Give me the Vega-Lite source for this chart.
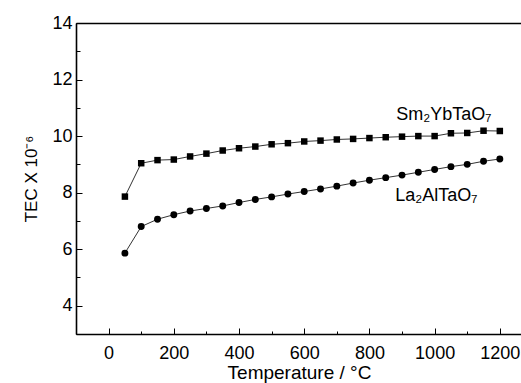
{
  "$schema": "https://vega.github.io/schema/vega-lite/v6.json",
  "autosize": "none",
  "padding": {"left": 76, "top": 23, "right": 0, "bottom": 49},
  "width": 446,
  "height": 311,
  "datasets": {
    "tec": [
      {"T": 50, "TEC": 7.86, "material": "Sm2YbTaO7"},
      {"T": 100, "TEC": 9.04, "material": "Sm2YbTaO7"},
      {"T": 150, "TEC": 9.15, "material": "Sm2YbTaO7"},
      {"T": 200, "TEC": 9.17, "material": "Sm2YbTaO7"},
      {"T": 250, "TEC": 9.28, "material": "Sm2YbTaO7"},
      {"T": 300, "TEC": 9.38, "material": "Sm2YbTaO7"},
      {"T": 350, "TEC": 9.49, "material": "Sm2YbTaO7"},
      {"T": 400, "TEC": 9.57, "material": "Sm2YbTaO7"},
      {"T": 450, "TEC": 9.63, "material": "Sm2YbTaO7"},
      {"T": 500, "TEC": 9.71, "material": "Sm2YbTaO7"},
      {"T": 550, "TEC": 9.75, "material": "Sm2YbTaO7"},
      {"T": 600, "TEC": 9.81, "material": "Sm2YbTaO7"},
      {"T": 650, "TEC": 9.84, "material": "Sm2YbTaO7"},
      {"T": 700, "TEC": 9.88, "material": "Sm2YbTaO7"},
      {"T": 750, "TEC": 9.90, "material": "Sm2YbTaO7"},
      {"T": 800, "TEC": 9.93, "material": "Sm2YbTaO7"},
      {"T": 850, "TEC": 9.96, "material": "Sm2YbTaO7"},
      {"T": 900, "TEC": 9.98, "material": "Sm2YbTaO7"},
      {"T": 950, "TEC": 10.0, "material": "Sm2YbTaO7"},
      {"T": 1000, "TEC": 10.0, "material": "Sm2YbTaO7"},
      {"T": 1050, "TEC": 10.10, "material": "Sm2YbTaO7"},
      {"T": 1100, "TEC": 10.11, "material": "Sm2YbTaO7"},
      {"T": 1150, "TEC": 10.19, "material": "Sm2YbTaO7"},
      {"T": 1200, "TEC": 10.18, "material": "Sm2YbTaO7"},
      {"T": 50, "TEC": 5.86, "material": "La2AlTaO7"},
      {"T": 100, "TEC": 6.80, "material": "La2AlTaO7"},
      {"T": 150, "TEC": 7.06, "material": "La2AlTaO7"},
      {"T": 200, "TEC": 7.22, "material": "La2AlTaO7"},
      {"T": 250, "TEC": 7.35, "material": "La2AlTaO7"},
      {"T": 300, "TEC": 7.44, "material": "La2AlTaO7"},
      {"T": 350, "TEC": 7.53, "material": "La2AlTaO7"},
      {"T": 400, "TEC": 7.65, "material": "La2AlTaO7"},
      {"T": 450, "TEC": 7.76, "material": "La2AlTaO7"},
      {"T": 500, "TEC": 7.85, "material": "La2AlTaO7"},
      {"T": 550, "TEC": 7.95, "material": "La2AlTaO7"},
      {"T": 600, "TEC": 8.04, "material": "La2AlTaO7"},
      {"T": 650, "TEC": 8.13, "material": "La2AlTaO7"},
      {"T": 700, "TEC": 8.23, "material": "La2AlTaO7"},
      {"T": 750, "TEC": 8.34, "material": "La2AlTaO7"},
      {"T": 800, "TEC": 8.44, "material": "La2AlTaO7"},
      {"T": 850, "TEC": 8.53, "material": "La2AlTaO7"},
      {"T": 900, "TEC": 8.62, "material": "La2AlTaO7"},
      {"T": 950, "TEC": 8.72, "material": "La2AlTaO7"},
      {"T": 1000, "TEC": 8.82, "material": "La2AlTaO7"},
      {"T": 1050, "TEC": 8.92, "material": "La2AlTaO7"},
      {"T": 1100, "TEC": 9.00, "material": "La2AlTaO7"},
      {"T": 1150, "TEC": 9.11, "material": "La2AlTaO7"},
      {"T": 1200, "TEC": 9.19, "material": "La2AlTaO7"}
    ],
    "labels": [
      {"T": 1028, "TEC": 10.57, "label": "Sm₂YbTaO₇"},
      {"T": 1005, "TEC": 7.69, "label": "La₂AlTaO₇"}
    ]
  },
  "layer": [
    {
      "data": {"name": "tec"},
      "mark": {"type": "line", "color": "#333", "strokeWidth": 1},
      "encoding": {
        "x": {"field": "T", "type": "quantitative", "scale": {"domain": [-100, 1268], "nice": false},
          "axis": {"orient": "bottom", "tickCount": 7, "format": "d", "grid": false, "domainColor": "#000", "domainWidth": 1.6, "tickSize": -6, "tickColor": "#000", "labelFont": "Liberation Sans", "labelColor": "#000", "labelFontSize": 18, "labelPadding": 16, "title": "Temperature / °C", "titleFont": "Liberation Sans", "titleColor": "#000", "titleFontWeight": "normal", "titleFontSize": 19, "titlePadding": 1}},
        "y": {"field": "TEC", "type": "quantitative", "scale": {"domain": [3, 14], "nice": false},
          "axis": {"orient": "left", "tickCount": 6, "format": "d", "grid": false, "domainColor": "#000", "domainWidth": 1.6, "tickSize": -6, "tickColor": "#000", "labelFont": "Liberation Sans", "labelColor": "#000", "labelFontSize": 18, "labelPadding": 10, "title": "TEC X 10⁻⁶", "titleFont": "Liberation Sans", "titleColor": "#000", "titleFontWeight": "normal", "titleFontSize": 17, "titlePadding": 11}},
        "detail": {"field": "material"}
      }
    },
    {
      "data": {"name": "tec"},
      "mark": {"type": "point", "filled": true, "color": "#000", "opacity": 1},
      "encoding": {
        "x": {"field": "T", "type": "quantitative", "scale": {"domain": [-100, 1268], "nice": false},
          "axis": {"orient": "bottom", "tickCount": 14, "grid": false, "domain": false, "tickSize": -3, "tickColor": "#000", "labels": false, "title": null}},
        "y": {"field": "TEC", "type": "quantitative", "scale": {"domain": [3, 14], "nice": false},
          "axis": {"orient": "left", "tickCount": 11, "grid": false, "domain": false, "tickSize": -4, "tickColor": "#000", "labels": false, "title": null}},
        "shape": {"field": "material", "type": "nominal", "scale": {"domain": ["Sm2YbTaO7", "La2AlTaO7"], "range": ["square", "circle"]}, "legend": null},
        "size": {"field": "material", "type": "nominal", "scale": {"domain": ["Sm2YbTaO7", "La2AlTaO7"], "range": [42, 48]}, "legend": null}
      }
    },
    {
      "data": {"name": "labels"},
      "mark": {"type": "text", "font": "Liberation Sans", "fontSize": 18, "color": "#000", "align": "center", "baseline": "alphabetic"},
      "encoding": {
        "x": {"field": "T", "type": "quantitative", "scale": {"domain": [-100, 1268], "nice": false},
          "axis": {"orient": "top", "grid": false, "ticks": false, "labels": false, "title": null, "domainColor": "#000", "domainWidth": 1.6}},
        "y": {"field": "TEC", "type": "quantitative", "scale": {"domain": [3, 14], "nice": false}, "axis": null},
        "text": {"field": "label"}
      }
    }
  ],
  "resolve": {"scale": {"x": "independent", "y": "independent"}, "axis": {"x": "independent", "y": "independent"}}
}
